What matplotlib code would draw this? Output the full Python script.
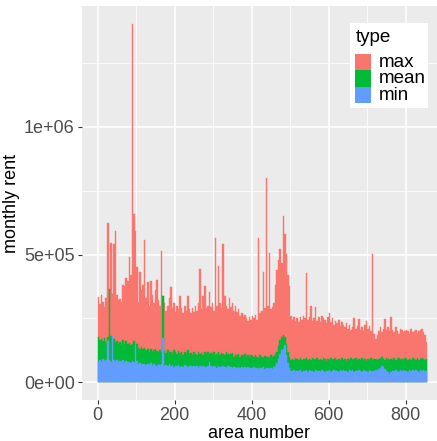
import numpy as np
import matplotlib
matplotlib.use('Agg')
import matplotlib.pyplot as plt
from matplotlib.patches import Rectangle
from matplotlib.ticker import FixedLocator, MultipleLocator

# 1 bar = 4 area numbers, values in thousand yen
max_k = [335, 305, 340, 315, 295, 330, 622, 365, 547, 345,
         541, 592, 340, 320, 325, 315, 380, 375, 410, 395,
         490, 420, 1403, 657, 592, 450, 313, 430, 360, 380,
         556, 330, 391, 300, 395, 340, 310, 360, 402, 320,
         300, 512, 338, 310, 280, 300, 330, 371, 290, 310,
         275, 300, 285, 338, 290, 270, 300, 280, 337, 285,
         270, 290, 275, 300, 280, 310, 443, 285, 338, 377,
         290, 300, 355, 295, 310, 280, 563, 300, 455, 310,
         290, 540, 338, 300, 285, 330, 295, 310, 280, 300,
         275, 285, 260, 270, 255, 265, 250, 240, 255, 245,
         260, 250, 265, 245, 566, 270, 280, 431, 290, 800,
         300, 508, 285, 295, 310, 380, 440, 480, 521, 465,
         651, 579, 501, 420, 378, 260, 245, 255, 240, 250,
         235, 255, 245, 260, 250, 426, 245, 255, 300, 240,
         250, 295, 240, 255, 235, 260, 250, 245, 230, 255,
         270, 235, 250, 225, 240, 230, 245, 220, 235, 225,
         215, 230, 210, 225, 205, 215, 251, 210, 220, 247,
         205, 215, 200, 225, 240, 210, 220, 200, 501, 190,
         169, 185, 200, 215, 195, 210, 247, 205, 215, 200,
         257, 205, 195, 215, 200, 190, 210, 205, 195, 200,
         205, 200, 190, 210, 195, 200, 205, 190, 200, 205, 210, 195, 185, 156]

mean_k = [178, 165, 170, 160, 172, 158, 175, 365, 180, 160,
          168, 155, 160, 150, 158, 145, 165, 150, 160, 148,
          155, 145, 150, 160, 140, 148, 135, 130, 138, 128,
          132, 125, 130, 120, 128, 118, 125, 130, 122, 120,
          125, 118, 338, 122, 115, 125, 118, 120, 112, 125,
          118, 110, 122, 115, 120, 108, 118, 112, 125, 110,
          115, 108, 120, 112, 105, 118, 110, 115, 108, 120,
          112, 118, 105, 115, 110, 120, 108, 112, 118, 105,
          115, 110, 108, 120, 112, 105, 110, 115, 100, 108,
          105, 112, 100, 108, 103, 110, 98, 105, 100, 108,
          102, 98, 105, 100, 95, 108, 100, 96, 104, 98,
          100, 95, 105, 98, 102, 110, 120, 140, 165, 175,
          185, 178, 150, 120, 100, 88, 92, 85, 95, 90,
          88, 94, 85, 92, 90, 95, 86, 92, 88, 96,
          90, 85, 94, 88, 92, 86, 95, 90, 84, 92,
          88, 95, 86, 90, 93, 85, 92, 88, 95, 86,
          90, 84, 92, 88, 95, 86, 90, 93, 85, 92,
          88, 95, 86, 90, 84, 92, 88, 94, 86, 90,
          92, 85, 90, 95, 100, 92, 88, 94, 90, 86,
          92, 88, 95, 86, 90, 93, 85, 92, 88, 95,
          90, 86, 92, 88, 95, 90, 86, 93, 88, 92, 95, 90, 86, 92]

min_k = [80, 85, 78, 90, 82, 88, 163, 85, 80, 182,
         85, 80, 88, 78, 84, 80, 86, 75, 82, 78,
         80, 76, 84, 78, 145, 82, 70, 75, 68, 72,
         70, 66, 72, 68, 74, 65, 70, 68, 64, 70,
         66, 70, 173, 65, 68, 62, 70, 64, 66, 60,
         65, 62, 68, 60, 64, 58, 66, 62, 60, 64,
         62, 58, 65, 60, 63, 57, 62, 60, 64, 58,
         60, 64, 78, 62, 58, 62, 60, 57, 63, 60,
         58, 62, 60, 56, 62, 58, 60, 55, 60, 58,
         56, 60, 55, 58, 54, 60, 56, 58, 54, 57,
         55, 58, 54, 57, 52, 56, 54, 58, 53, 56,
         54, 52, 56, 53, 58, 65, 75, 90, 110, 125,
         130, 145, 105, 75, 55, 45, 42, 48, 40, 45,
         43, 47, 40, 45, 42, 48, 41, 46, 43, 45,
         40, 46, 42, 45, 41, 47, 43, 40, 45, 42,
         46, 41, 44, 48, 42, 45, 40, 46, 43, 47,
         42, 45, 40, 46, 43, 48, 41, 45, 42, 46,
         44, 40, 46, 42, 45, 41, 47, 43, 40, 45,
         48, 42, 50, 55, 65, 58, 50, 45, 38, 32,
         40, 45, 42, 47, 44, 41, 46, 43, 48, 42,
         45, 41, 47, 43, 46, 42, 48, 44, 41, 46, 43, 47, 44, 45]

types = ['max', 'mean', 'min']
colors = ['#F8766D', '#00BA38', '#619CFF']
y_ticks = [0, 500000, 1000000]
y_labels = ['0e+00', '5e+05', '1e+06']
x_ticks = [0, 200, 400, 600, 800]

plt.rcParams['font.family'] = ['Liberation Sans', 'DejaVu Sans']

W, H = 437, 441
fig = plt.figure(figsize=(W / 100, H / 100), dpi=100)
ax = fig.add_axes([81.7 / W, 41 / H, 1 - 81.7 / W, (400 - 6) / H])

x = np.arange(len(max_k)) * 4
for vals, col in zip([max_k, mean_k, min_k], colors):
    ax.bar(x, np.array(vals) * 1000, width=4, align='edge', color=col,
           edgecolor=col, linewidth=0.3, zorder=2)

ax.set_xlim(-41.6, 881)
ax.set_ylim(-70000, 1474000)

ax.set_facecolor('#EBEBEB')
for s in ax.spines.values():
    s.set_visible(False)

ax.xaxis.set_major_locator(FixedLocator(x_ticks))
ax.xaxis.set_minor_locator(MultipleLocator(100))
ax.yaxis.set_major_locator(FixedLocator(y_ticks))
ax.yaxis.set_minor_locator(FixedLocator([250000, 750000, 1250000]))
ax.set_yticklabels(y_labels)
ax.grid(which='major', color='white', linewidth=1.1, zorder=0)
ax.grid(which='minor', color='white', linewidth=0.55, zorder=0)
ax.set_axisbelow(True)
ax.tick_params(which='major', length=3, width=0.8, color='#333333',
               labelsize=13, labelcolor='#4D4D4D', pad=2)
ax.tick_params(which='minor', length=0)

ax.set_xlabel('area number', fontsize=13, labelpad=1)
ax.set_ylabel('monthly rent', fontsize=13, labelpad=3)


# legend drawn in pixel coordinates, like ggplot's inside legend
def fx(px):
    return px / W


def fy(py):
    return 1 - py / H


fig.add_artist(Rectangle((fx(350), fy(108)), fx(428) - fx(350), fy(23) - fy(108),
                         transform=fig.transFigure, facecolor='white',
                         edgecolor='none', zorder=5))
fig.text(fx(356), fy(38), 'type', fontsize=13.5, va='center', ha='left', zorder=6)
key_h = 16.4
for i, (lab, col) in enumerate(zip(types, colors)):
    top = 54 + i * key_h
    fig.add_artist(Rectangle((fx(355), fy(top + key_h)), fx(370.7) - fx(355),
                             fy(top) - fy(top + key_h), transform=fig.transFigure,
                             facecolor=col, edgecolor='none', zorder=6))
    fig.text(fx(379), fy(top + key_h / 2), lab, fontsize=13.5, va='center',
             ha='left', zorder=6)

fig.savefig('out.png', dpi=100)
